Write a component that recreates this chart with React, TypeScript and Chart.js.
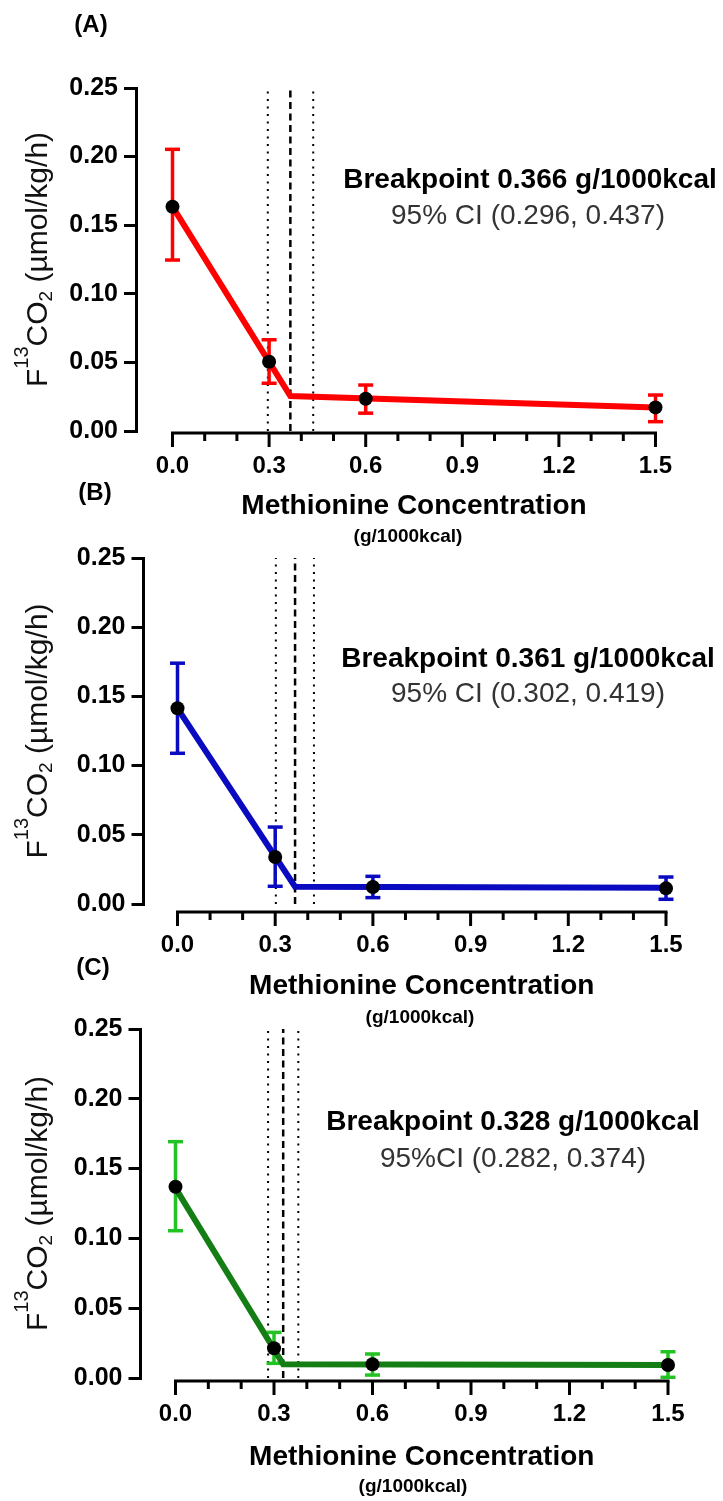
import React, { useEffect, useRef } from "react";
import { Chart, registerables } from "chart.js";

Chart.register(...registerables);

const FONT = "'Liberation Sans', Arial, Helvetica, sans-serif";

// ---------- shared axis values ----------
const xMajorTicks = [0, 0.3, 0.6, 0.9, 1.2, 1.5];
const xMinorTicks = [0, 0.1, 0.2, 0.3, 0.4, 0.5, 0.6, 0.7, 0.8, 0.9, 1.0, 1.1, 1.2, 1.3, 1.4, 1.5];
const yTicks = [0, 0.05, 0.1, 0.15, 0.2, 0.25];
const xTitle = "Methionine Concentration";
const xUnit = "(g/1000kcal)";

// ---------- Panel A ----------
const doseA = [0, 0.3, 0.6, 1.5];
const meanA = [0.1635, 0.0505, 0.0235, 0.0172];
const lowA = [0.1246, 0.0348, 0.013, 0.0068];
const highA = [0.2053, 0.0665, 0.0335, 0.0262];
const fitXA = [0, 0.366, 1.5];
const fitYA = [0.1635, 0.0255, 0.0172];
const breakA = 0.366;
const ciA = [0.296, 0.437];
const textA = ["(A)", "Breakpoint 0.366 g/1000kcal", "95% CI (0.296, 0.437)"];

// ---------- Panel B ----------
const doseB = [0, 0.3, 0.6, 1.5];
const meanB = [0.1414, 0.034, 0.0123, 0.0113];
const lowB = [0.1089, 0.0128, 0.0046, 0.0034];
const highB = [0.174, 0.0556, 0.02, 0.0195];
const fitXB = [0, 0.361, 1.5];
const fitYB = [0.1414, 0.0125, 0.0118];
const breakB = 0.361;
const ciB = [0.302, 0.419];
const textB = ["(B)", "Breakpoint 0.361 g/1000kcal", "95% CI (0.302, 0.419)"];

// ---------- Panel C ----------
const doseC = [0, 0.3, 0.6, 1.5];
const meanC = [0.137, 0.0213, 0.0098, 0.0093];
const lowC = [0.1055, 0.0105, 0.0021, 0.0005];
const highC = [0.1693, 0.0327, 0.0172, 0.0188];
const fitXC = [0, 0.328, 1.5];
const fitYC = [0.136, 0.0098, 0.0093];
const breakC = 0.328;
const ciC = [0.282, 0.374];
const textC = ["(C)", "Breakpoint 0.328 g/1000kcal", "95%CI (0.282, 0.374)"];

// ---------- layout (page pixels) ----------
const PANELS = [
  {
    dose: doseA, mean: meanA, low: lowA, high: highA, fitX: fitXA, fitY: fitYA,
    bp: breakA, ci: ciA, text: textA,
    lineColor: "#ff0000", errColor: "#ff0000",
    canvasTop: 0, canvasHeight: 552,
    left: 136, top: 88, bottom: 431, x0: 172.5, right: 655.5, axisOffset: 2,
    label: [91, 25], titleY: 506, unit: [408, 537], bpPos: [530, 180], ciPos: [528, 216],
  },
  {
    dose: doseB, mean: meanB, low: lowB, high: highB, fitX: fitXB, fitY: fitYB,
    bp: breakB, ci: ciB, text: textB,
    lineColor: "#0a0ac0", errColor: "#0a0ac0",
    canvasTop: 470, canvasHeight: 560,
    left: 143.5, top: 558, bottom: 904, x0: 177.5, right: 666, axisOffset: 8,
    label: [95, 493], titleY: 986, unit: [420, 1018], bpPos: [528, 659], ciPos: [528, 694],
  },
  {
    dose: doseC, mean: meanC, low: lowC, high: highC, fitX: fitXC, fitY: fitYC,
    bp: breakC, ci: ciC, text: textC,
    lineColor: "#147d14", errColor: "#22c322",
    canvasTop: 945, canvasHeight: 556,
    left: 140.5, top: 1029, bottom: 1378, x0: 175.5, right: 668, axisOffset: 3,
    label: [93, 968], titleY: 1457, unit: [413, 1487], bpPos: [513, 1122], ciPos: [513, 1159],
  },
];

const Y_SCALE_W = 80;
const X_SCALE_H = 80;

function drawYTitle(ctx: CanvasRenderingContext2D, baselineX: number, cy: number) {
  const segs = [
    { t: "F", size: 30, dy: 0 },
    { t: "13", size: 20, dy: -19 },
    { t: "CO", size: 30, dy: 0 },
    { t: "2", size: 19, dy: 5 },
    { t: " (\u00b5mol/kg/h)", size: 30, dy: 0 },
  ];
  ctx.save();
  ctx.translate(baselineX, cy);
  ctx.rotate(-Math.PI / 2);
  ctx.fillStyle = "#111";
  ctx.textBaseline = "alphabetic";
  ctx.textAlign = "left";
  let total = 0;
  const widths = segs.map((s) => {
    ctx.font = `${s.size}px ${FONT}`;
    const w = ctx.measureText(s.t).width;
    total += w;
    return w;
  });
  let x = -total / 2;
  segs.forEach((s, i) => {
    ctx.font = `${s.size}px ${FONT}`;
    ctx.fillText(s.t, x, s.dy);
    x += widths[i];
  });
  ctx.restore();
}

function makePlugin(p: any) {
  const ct = p.canvasTop;
  return {
    id: "prismExtras",
    beforeDatasetsDraw(chart: any) {
      const { ctx } = chart;
      const xs = chart.scales.x;
      const ys = chart.scales.y;
      const yAxis = ys.getPixelForValue(0) + p.axisOffset;
      ctx.save();
      ctx.strokeStyle = "#000";
      ctx.lineWidth = 3;
      ctx.lineCap = "butt";
      ctx.beginPath();
      ctx.moveTo(xs.getPixelForValue(xMajorTicks[0]) - 1.5, yAxis);
      ctx.lineTo(xs.getPixelForValue(xMajorTicks[xMajorTicks.length - 1]) + 1.5, yAxis);
      ctx.stroke();
      xMinorTicks.forEach((v) => {
        const px = xs.getPixelForValue(v);
        const major = xMajorTicks.some((m) => Math.abs(m - v) < 1e-6);
        ctx.beginPath();
        ctx.moveTo(px, yAxis);
        ctx.lineTo(px, yAxis + (major ? 14 : 8));
        ctx.stroke();
      });
      ctx.restore();
    },
    afterDraw(chart: any) {
      const { ctx, chartArea } = chart;
      const xs = chart.scales.x;
      ctx.save();
      ctx.fillStyle = "#000";
      ctx.textAlign = "center";
      ctx.textBaseline = "middle";
      // panel label
      ctx.font = `bold 24px ${FONT}`;
      ctx.fillText(p.text[0], p.label[0], p.label[1] - ct);
      // x title
      const axisMid = (xs.getPixelForValue(0) + xs.getPixelForValue(1.5)) / 2;
      ctx.font = `bold 28px ${FONT}`;
      ctx.fillText(xTitle, axisMid, p.titleY - ct);
      ctx.font = `bold 19px ${FONT}`;
      ctx.fillText(xUnit, p.unit[0], p.unit[1] - ct);
      // breakpoint annotation
      ctx.font = `bold 28px ${FONT}`;
      ctx.fillText(p.text[1], p.bpPos[0], p.bpPos[1] - ct);
      ctx.fillStyle = "#333";
      ctx.font = `28px ${FONT}`;
      ctx.fillText(p.text[2], p.ciPos[0], p.ciPos[1] - ct);
      ctx.restore();
      drawYTitle(ctx, 47, (chartArea.top + chartArea.bottom) / 2);
    },
  };
}

function Panel({ p }: { p: any }) {
  const ref = useRef<HTMLCanvasElement | null>(null);
  useEffect(() => {
    if (!ref.current) return;
    const pxPerUnit = (p.right - p.x0) / 1.5;
    const xMin = -(p.x0 - p.left) / pxPerUnit;

    const errData: any[] = [];
    p.dose.forEach((d: number, i: number) => {
      errData.push({ x: d, y: p.low[i] }, { x: d, y: p.high[i] }, { x: d, y: null });
    });
    const refLine = (v: number, dash: number[], w: number) => ({
      data: [{ x: v, y: 0 }, { x: v, y: 0.25 }],
      borderColor: "#000",
      borderWidth: w,
      borderDash: dash,
      pointRadius: 0,
      order: 3,
      clip: false,
    });

    const chart = new Chart(ref.current, {
      type: "line",
      data: {
        datasets: [
          {
            data: p.dose.map((d: number, i: number) => ({ x: d, y: p.mean[i] })),
            showLine: false,
            pointRadius: 7,
            pointBackgroundColor: "#000",
            pointBorderWidth: 0,
            borderColor: "#000",
            order: 0,
            clip: false,
          },
          {
            data: p.fitX.map((x: number, i: number) => ({ x, y: p.fitY[i] })),
            borderColor: p.lineColor,
            borderWidth: 6,
            pointRadius: 0,
            tension: 0,
            order: 1,
            clip: false,
          },
          {
            data: errData,
            borderColor: p.errColor,
            borderWidth: 3.5,
            pointStyle: "line",
            pointRadius: 7.5,
            pointBorderColor: p.errColor,
            pointBackgroundColor: p.errColor,
            pointBorderWidth: 3.5,
            spanGaps: false,
            order: 2,
            clip: false,
          },
          refLine(p.ci[0], [2, 5.5], 2),
          refLine(p.bp, [7, 4.5], 2.5),
          refLine(p.ci[1], [2, 5.5], 2),
        ] as any,
      },
      options: {
        responsive: false,
        animation: false,
        events: [],
        layout: {
          padding: {
            left: p.left - Y_SCALE_W,
            top: p.top - p.canvasTop,
            right: 723 - p.right,
            bottom: p.canvasHeight - (p.bottom - p.canvasTop) - X_SCALE_H,
          },
        },
        plugins: { legend: { display: false }, tooltip: { enabled: false }, title: { display: false } },
        scales: {
          x: {
            type: "linear",
            min: xMin,
            max: 1.5,
            afterBuildTicks: (s: any) => {
              s.ticks = xMajorTicks.map((v) => ({ value: v }));
            },
            afterFit: (s: any) => {
              s.height = X_SCALE_H;
            },
            grid: { display: false, drawTicks: false },
            border: { display: false },
            ticks: {
              autoSkip: false,
              maxRotation: 0,
              minRotation: 0,
              padding: p.axisOffset + 19,
              color: "#000",
              font: { family: FONT, size: 24, weight: "bold" },
              callback: (v: any) => Number(v).toFixed(1),
            },
          },
          y: {
            type: "linear",
            min: 0,
            max: 0.25,
            afterBuildTicks: (s: any) => {
              s.ticks = yTicks.map((v) => ({ value: v }));
            },
            afterFit: (s: any) => {
              s.width = Y_SCALE_W;
            },
            grid: {
              display: true,
              drawOnChartArea: false,
              drawTicks: true,
              tickLength: 12,
              tickWidth: 3,
              tickColor: "#000",
              color: "#000",
              lineWidth: 3,
            },
            border: { display: true, width: 3, color: "#000" },
            ticks: {
              padding: 6,
              color: "#000",
              font: { family: FONT, size: 25, weight: "bold" },
              callback: (v: any) => Number(v).toFixed(2),
            },
          },
        },
      } as any,
      plugins: [makePlugin(p)],
    });
    return () => chart.destroy();
  }, [p]);

  return (
    <canvas
      ref={ref}
      width={723}
      height={p.canvasHeight}
      style={{ position: "absolute", left: 0, top: p.canvasTop, width: 723, height: p.canvasHeight }}
    />
  );
}

export default function App() {
  return (
    <div style={{ position: "absolute", left: 0, top: 0, width: 723, height: 1501, background: "#fff" }}>
      {PANELS.map((p, i) => (
        <Panel key={i} p={p} />
      ))}
    </div>
  );
}
